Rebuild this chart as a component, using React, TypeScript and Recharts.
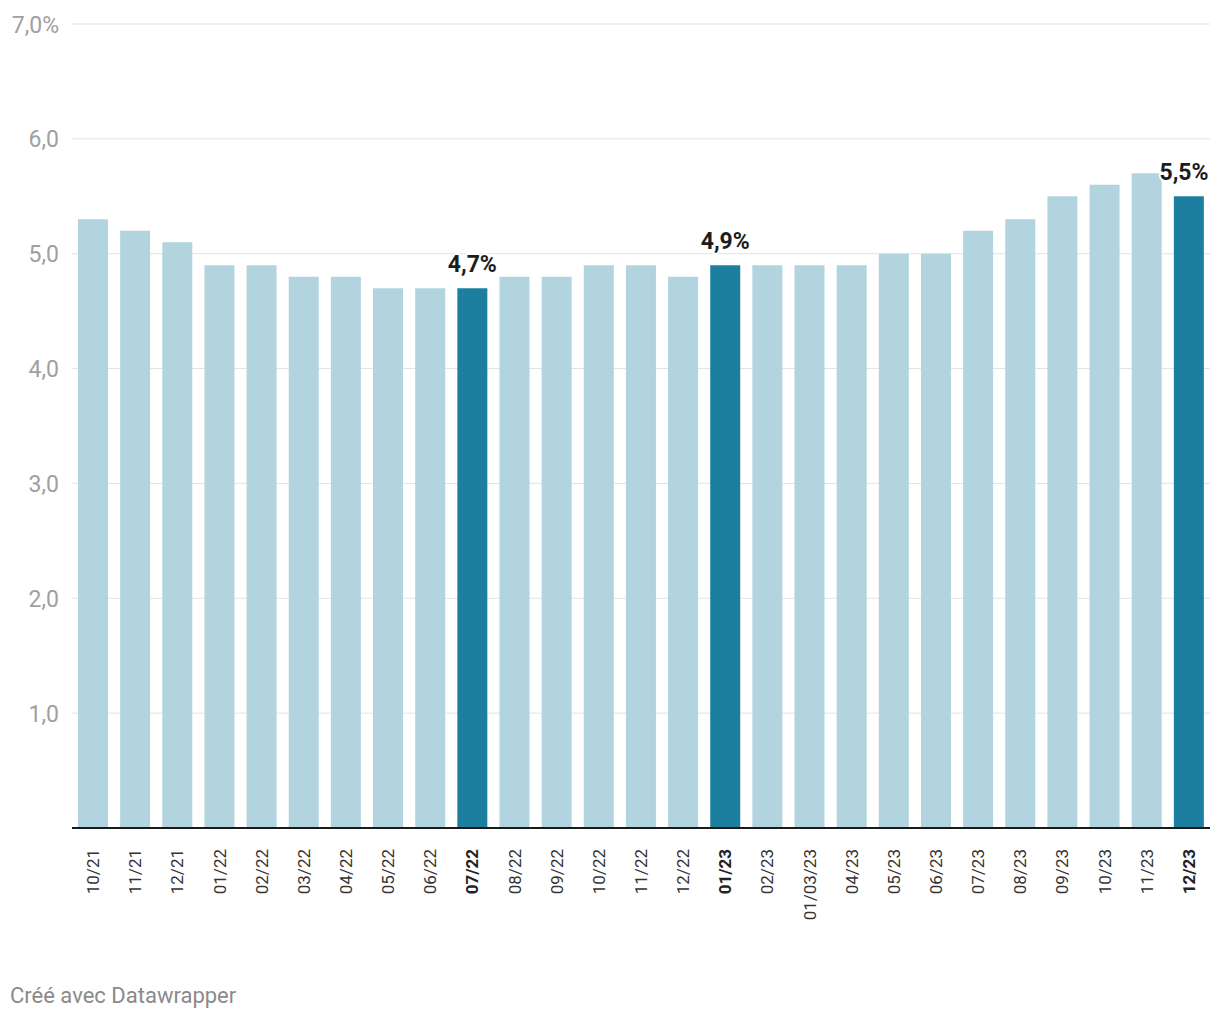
import React from "react";
import { BarChart, Bar, XAxis, YAxis, CartesianGrid, Cell, LabelList } from "recharts";

const months = [
  "10/21", "11/21", "12/21", "01/22", "02/22", "03/22", "04/22", "05/22", "06/22",
  "07/22", "08/22", "09/22", "10/22", "11/22", "12/22", "01/23", "02/23", "01/03/23",
  "04/23", "05/23", "06/23", "07/23", "08/23", "09/23", "10/23", "11/23", "12/23",
];
const rates = [
  5.3, 5.2, 5.1, 4.9, 4.9, 4.8, 4.8, 4.7, 4.7,
  4.7, 4.8, 4.8, 4.9, 4.9, 4.8, 4.9, 4.9, 4.9,
  4.9, 5.0, 5.0, 5.2, 5.3, 5.5, 5.6, 5.7, 5.5,
];
const highlighted = ["07/22", "01/23", "12/23"];
const yTicks = [1, 2, 3, 4, 5, 6, 7];

const data = months.map((m, i) => ({ month: m, rate: rates[i] }));

const FONT = "Roboto, 'Noto Sans', sans-serif";
const fmt = (v: number) => v.toFixed(1).replace(".", ",");

const YTick = (props: any) => {
  const { y, payload } = props;
  const v = payload.value;
  return (
    <text x={59} y={y + 1} textAnchor="end" dominantBaseline="central"
      fontFamily={FONT} fontSize={23} fill="#a0a0a0">
      {v === 7 ? fmt(v) + "%" : fmt(v)}
    </text>
  );
};

const XTick = (props: any) => {
  const { x, y, payload } = props;
  const bold = highlighted.includes(payload.value);
  return (
    <text x={x} y={y} transform={`rotate(-90, ${x}, ${y})`} textAnchor="end"
      dominantBaseline="central" fontFamily={FONT} fontSize={17}
      fontWeight={bold ? 700 : 400} fill={bold ? "#222" : "#333"}>
      {payload.value}
    </text>
  );
};

const BarLabel = (props: any) => {
  const { x, y, width, index } = props;
  if (!highlighted.includes(months[index])) return null;
  const cx = Math.min(x + width / 2, 1209 - 25);
  return (
    <text x={cx} y={y - 24} textAnchor="middle" dominantBaseline="central"
      fontFamily={FONT} fontSize={23} fontWeight={700} fill="#1d1d1d"
      stroke="#fff" strokeWidth={4} paintOrder="stroke" strokeLinejoin="round">
      {fmt(rates[index]) + "%"}
    </text>
  );
};

export default function App() {
  return (
    <div style={{ position: "absolute", left: 0, top: 0, width: 1220, height: 1020, background: "#fff" }}>
      <BarChart width={1220} height={1020} data={data}
        margin={{ top: 24, right: 10, left: 0, bottom: 0 }} barSize={30}>
        <CartesianGrid vertical={false} stroke="#e3e3e3" horizontalValues={yTicks} />
        <YAxis domain={[0, 7]} ticks={yTicks} width={72} axisLine={false} tickLine={false}
          tick={<YTick />} interval={0} />
        <XAxis dataKey="month" interval={0} tickLine={false} height={192}
          axisLine={{ stroke: "#1a1a1a", strokeWidth: 2 }} tick={<XTick />} tickMargin={15} />
        <Bar dataKey="rate" isAnimationActive={false}>
          {data.map((d) => (
            <Cell key={d.month} fill={highlighted.includes(d.month) ? "#1c7fa0" : "#b2d4de"} />
          ))}
          <LabelList dataKey="rate" content={<BarLabel />} />
        </Bar>
      </BarChart>
      <div style={{ position: "absolute", left: 10, top: 983, fontFamily: FONT, fontSize: 22, color: "#8a8a8a" }}>
        Créé avec Datawrapper
      </div>
    </div>
  );
}
